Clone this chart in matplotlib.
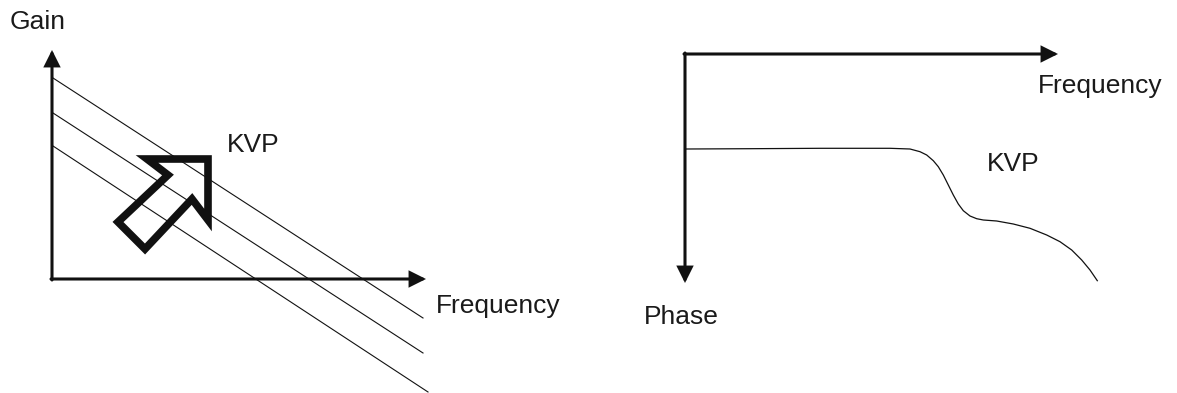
import numpy as np
import matplotlib.pyplot as plt
from matplotlib.patches import Polygon

W, H = 1177, 393

# gain plot: three parallel lines (pixel coords, y down)
gain_x0 = [53, 53, 53]
gain_y0 = [78, 113, 146]
gain_x1 = [423, 423, 428]
gain_y1 = [318, 353, 392]

# KVP arrow outline
kvp_arrow_x = [208, 147, 168, 118, 145, 192, 208]
kvp_arrow_y = [159, 159, 175, 222, 249, 199, 220]

# phase curve
phase_x = [686, 750, 820, 890, 910, 920, 926.7, 933.3, 938.3, 943.3, 948.3,
           953.3, 958.3, 963.3, 970, 976.7, 983.3, 996.7, 1013.3, 1030,
           1046.7, 1060, 1071.7, 1081.7, 1090, 1097.3]
phase_y = [149, 148.7, 148.3, 148.3, 149, 151.7, 155, 160.7, 166.7, 175, 185,
           195, 204, 210.7, 216, 218.7, 220, 221, 224, 228.3,
           235, 241.7, 250, 260, 270, 280.7]

plt.rcParams['font.family'] = ['Liberation Sans', 'DejaVu Sans']

fig = plt.figure(figsize=(W / 100, H / 100), dpi=100)
ax = fig.add_axes([0, 0, 1, 1])
ax.set_xlim(0, W)
ax.set_ylim(H, 0)
ax.axis('off')

def axis_arrow(start, tip):
    ax.annotate('', xy=tip, xytext=start,
                arrowprops=dict(arrowstyle='-|>,head_length=0.9,head_width=0.45',
                                lw=2.2, color='#111111', shrinkA=0, shrinkB=0,
                                joinstyle='miter'))

# left axes
axis_arrow((52, 280), (52, 50))
axis_arrow((51, 279), (426, 279))
# right axes
axis_arrow((685, 53), (685, 283))
axis_arrow((684, 54), (1058, 54))

for i in range(3):
    ax.plot([gain_x0[i], gain_x1[i]], [gain_y0[i], gain_y1[i]],
            color='#111111', lw=0.8)

ax.add_patch(Polygon(np.column_stack([kvp_arrow_x, kvp_arrow_y]), closed=True,
                     fill=False, edgecolor='#111111', lw=5.5, joinstyle='miter'))

ax.plot(phase_x, phase_y, color='#111111', lw=0.9, solid_joinstyle='round')

fs = 19
tc = '#1a1a1a'
ax.text(10, 29, 'Gain', fontsize=fs, color=tc, va='baseline')
ax.text(227, 152, 'KVP', fontsize=fs, color=tc, va='baseline')
ax.text(436, 313, 'Frequency', fontsize=fs, color=tc, va='baseline')
ax.text(1038, 93, 'Frequency', fontsize=fs, color=tc, va='baseline')
ax.text(987, 171, 'KVP', fontsize=fs, color=tc, va='baseline')
ax.text(644, 324, 'Phase', fontsize=fs, color=tc, va='baseline')

fig.savefig('out.png', dpi=100)
